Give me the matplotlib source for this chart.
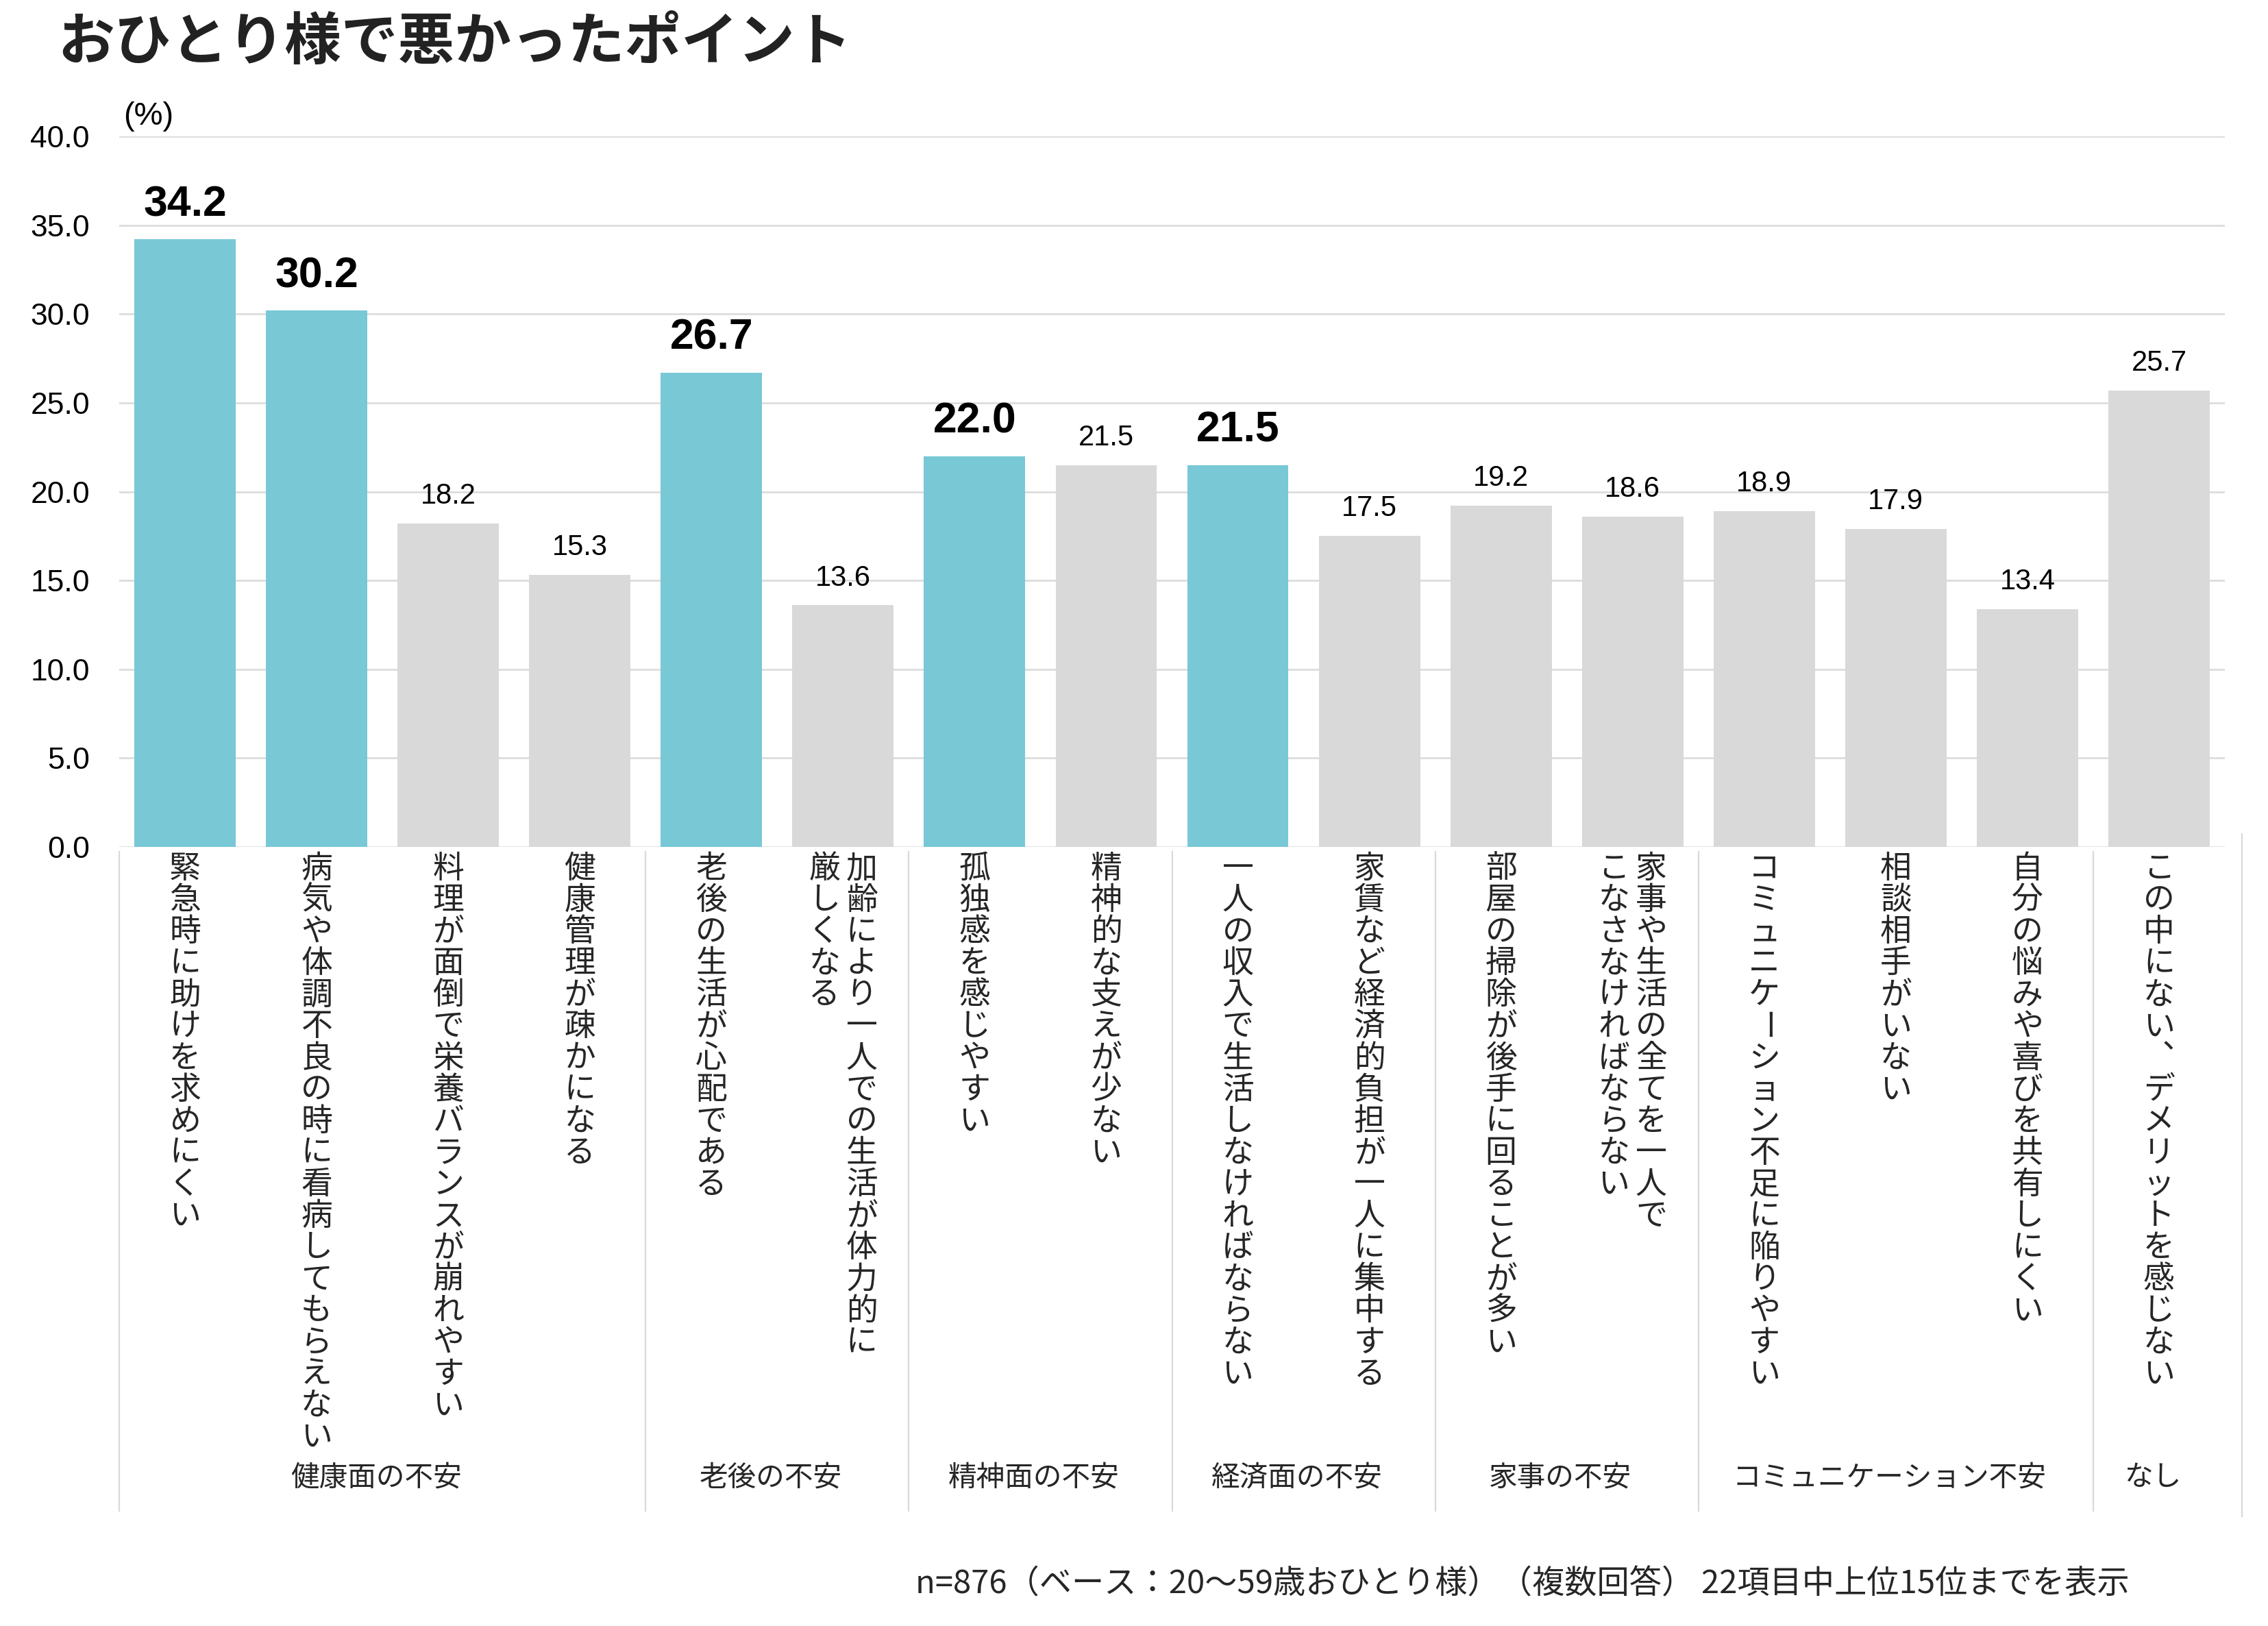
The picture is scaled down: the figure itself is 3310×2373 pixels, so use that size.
import matplotlib
matplotlib.use("Agg")
import matplotlib.pyplot as plt
import matplotlib.transforms as mtransforms
import numpy as np

plt.rcParams['font.family'] = ['Noto Sans CJK JP', 'DejaVu Sans']

# data
labels = [
    '緊急時に助けを求めにくい',
    '病気や体調不良の時に看病してもらえない',
    '料理が面倒で栄養バランスが崩れやすい',
    '健康管理が疎かになる',
    '老後の生活が心配である',
    '加齢により一人での生活が体力的に\n厳しくなる',
    '孤独感を感じやすい',
    '精神的な支えが少ない',
    '一人の収入で生活しなければならない',
    '家賃など経済的負担が一人に集中する',
    '部屋の掃除が後手に回ることが多い',
    '家事や生活の全てを一人で\nこなさなければならない',
    'コミュニケーション不足に陥りやすい',
    '相談相手がいない',
    '自分の悩みや喜びを共有しにくい',
    'この中にない、デメリットを感じない',
]
values = [34.2, 30.2, 18.2, 15.3, 26.7, 13.6, 22.0, 21.5,
          21.5, 17.5, 19.2, 18.6, 18.9, 17.9, 13.4, 25.7]
highlight = [True, True, False, False, True, False, True, False,
             True, False, False, False, False, False, False, False]
group_names = ['健康面の不安', '老後の不安', '精神面の不安', '経済面の不安',
               '家事の不安', 'コミュニケーション不安', 'なし']
group_sizes = [4, 2, 2, 2, 2, 3, 1]

TEAL = '#78C8D6'
GRAY = '#D9D9D9'
TEXT = '#262626'
LATIN = ['Liberation Sans', 'DejaVu Sans']

fig = plt.figure(figsize=(16.55, 11.865), dpi=200)
ax = fig.add_axes([0.05257, 0.47914, 0.92840, 0.43700])

x = np.arange(len(values))
colors = [TEAL if h else GRAY for h in highlight]
ax.bar(x, values, width=0.77, color=colors, zorder=3)

ax.set_xlim(-0.5, len(values) - 0.5)
ax.set_ylim(0, 40)
ax.set_yticks(np.arange(0, 40.1, 5))
ax.set_yticklabels([f'{t:.1f}' for t in np.arange(0, 40.1, 5)],
                   fontsize=16, family=LATIN, color='black')
ax.tick_params(axis='y', length=0, pad=15.5)
ax.set_xticks([])
ax.yaxis.grid(True, color=GRAY, linewidth=0.9, zorder=0)
ax.set_axisbelow(True)
for s in ax.spines.values():
    s.set_visible(False)

# value labels
for i, v in enumerate(values):
    if highlight[i]:
        ax.annotate(f'{v:.1f}', xy=(i, v), xytext=(0, 12.2),
                    textcoords='offset points', ha='center', va='baseline',
                    fontsize=22.5, fontweight='bold', family=LATIN, color='black')
    else:
        ax.annotate(f'{v:.1f}', xy=(i, v), xytext=(0, 10.4),
                    textcoords='offset points', ha='center', va='baseline',
                    fontsize=15, family=LATIN, color='black')

# vertical category labels (one glyph per cell, columns right to left)
xtrans = ax.get_xaxis_transform()
step_pt = 16.6
first_pt = 11.4
col_gap_pt = 19.6
for i, lab in enumerate(labels):
    cols = lab.split('\n')
    n = len(cols)
    for ci, col in enumerate(cols):
        dx = ((n - 1) / 2 - ci) * col_gap_pt
        for k, ch in enumerate(col):
            rot = 0
            if ch == 'ー':
                rot = -90
            if ch == '、':
                ch = '︑'
            tr = mtransforms.offset_copy(xtrans, fig=fig, x=dx,
                                         y=-(first_pt + k * step_pt), units='points')
            ax.text(i, 0, ch, transform=tr, ha='center', va='center',
                    rotation=rot, fontsize=16.5, color=TEXT, clip_on=False)

# group separators and group names
bounds = np.concatenate([[0], np.cumsum(group_sizes)]) - 0.5
for b in bounds[:-1]:
    ax.plot([b, b], [-0.0068, -0.934], transform=xtrans, color=GRAY,
            linewidth=0.8, clip_on=False)
ax.plot([bounds[-1] + 0.13] * 2, [0.018, -0.942], transform=xtrans, color=GRAY,
        linewidth=0.8, clip_on=False)
for gi, name in enumerate(group_names):
    c = (bounds[gi] + bounds[gi + 1]) / 2
    ax.text(c - 0.05, -0.888, name, transform=xtrans, ha='center', va='center',
            fontsize=15, color=TEXT, clip_on=False)

# title, unit, note
fig.text(0.0254, 0.9735, 'おひとり様で悪かったポイント', ha='left', va='center',
         fontsize=29.8, fontweight='bold', color='#222222')
fig.text(0.0544, 0.9284, '(%)', ha='left', va='center', fontsize=17,
         family=LATIN, color='black')
fig.text(0.4036, 0.0257,
         'n=876（ベース：20～59歳おひとり様）（複数回答） 22項目中上位15位までを表示',
         ha='left', va='center', fontsize=17, color=TEXT)

fig.savefig('out.png', dpi=200)
